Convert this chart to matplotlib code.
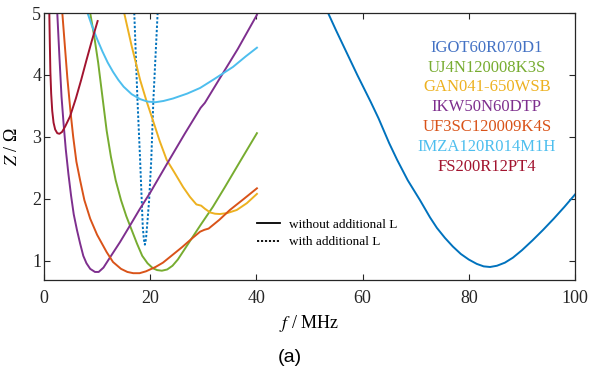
import matplotlib
matplotlib.use('Agg')
import matplotlib.pyplot as plt
from matplotlib.lines import Line2D

# =====================================================================
# DATA (Impedanz ueber Frequenz)
# =====================================================================
igot_f = [53.5, 55, 57, 59, 61.5, 63, 65, 66.5, 68.5, 70.8, 72.7, 74, 75.5, 77, 78.5, 80, 81.5, 82.8,
          84, 85.3, 86.8, 88.3, 90, 92, 94, 96, 98, 100]
igot_z = [5.0, 4.72, 4.36, 4.0, 3.57, 3.3, 2.9, 2.63, 2.3, 1.98, 1.70, 1.53, 1.37, 1.23, 1.11, 1.02, 0.95, 0.91,
          0.90, 0.92, 0.97, 1.05, 1.17, 1.33, 1.50, 1.68, 1.87, 2.07]

igotL_f = [17.0, 17.6, 18.1, 18.4, 18.6, 18.8, 19.0, 19.2, 19.4, 19.8, 20.2, 20.6, 21.4]
igotL_z = [5.0, 3.6, 2.63, 1.98, 1.55, 1.35, 1.26, 1.35, 1.55, 1.98, 2.63, 3.6, 5.0]

uj4n_f = [8.7, 9.5, 10.2, 11.0, 11.8, 12.6, 13.5, 14.5, 15.5, 16.5, 17.5, 18.5, 19.5, 20.5, 21.3, 22.2,
          23.2, 24.2, 25.2, 26.2, 27.5, 29.5, 31.8, 34, 36.9, 40.1]
uj4n_z = [5.0, 4.6, 4.2, 3.65, 3.1, 2.68, 2.3, 1.98, 1.72, 1.5, 1.28, 1.08, 0.96, 0.88, 0.85, 0.84,
          0.86, 0.92, 1.02, 1.15, 1.32, 1.58, 1.87, 2.18, 2.6, 3.06]

gan_f = [15.1, 16.5, 18.1, 19.3, 20.5, 21.8, 23.1, 24.6, 26.2, 27.5, 28.7, 29.6, 30.3, 31.3, 32.2, 33.1,
         34.5, 36.3, 38.2, 40.1]
gan_z = [5.0, 4.47, 3.92, 3.58, 3.27, 2.93, 2.63, 2.42, 2.19, 2.03, 1.91, 1.89, 1.84, 1.78, 1.76, 1.755,
         1.77, 1.82, 1.93, 2.08]

ikw_f = [2.5, 2.9, 3.3, 3.7, 4.1, 4.6, 5.1, 5.6, 6.2, 6.8, 7.4, 8.0, 8.7, 9.6, 10.3, 11.2, 12.4, 14.3,
         16.2, 18.0, 20.0, 23.4, 26.5, 29.5, 30.3, 33, 36.5, 40.1]
ikw_z = [5.0, 4.3, 3.65, 3.2, 2.8, 2.4, 2.05, 1.75, 1.5, 1.28, 1.08, 0.96, 0.87, 0.82, 0.82, 0.89, 1.05, 1.3,
         1.57, 1.83, 2.1, 2.6, 3.05, 3.47, 3.55, 3.93, 4.42, 4.97]

uf3_f = [3.45, 3.9, 4.4, 5.0, 5.5, 6.1, 6.8, 7.6, 8.7, 10.0, 11.8, 13.0, 14.5, 15.7, 16.8, 18.0, 19.2,
         21, 22.4, 23.7, 26, 28, 29.4, 30.2, 31, 33, 35, 37.5, 40.1]
uf3_z = [5.0, 4.5, 3.95, 3.4, 3.0, 2.6, 2.3, 1.98, 1.68, 1.42, 1.14, 0.98, 0.87, 0.82, 0.80, 0.80, 0.83,
         0.9, 0.97, 1.06, 1.22, 1.37, 1.47, 1.50, 1.52, 1.66, 1.82, 1.99, 2.17]

imza_f = [8.2, 9.0, 10.0, 11.0, 12.0, 13.0, 14.0, 15.0, 16.5, 18.1, 19.5, 21.0, 22.5, 24.3, 27.0, 29.4,
          32.0, 35.6, 38.0, 40.1]
imza_z = [5.0, 4.8, 4.58, 4.38, 4.2, 4.05, 3.92, 3.81, 3.69, 3.61, 3.57, 3.56, 3.58, 3.62, 3.7, 3.79,
          3.93, 4.13, 4.3, 4.44]

fs200_f = [1.0, 1.1, 1.2, 1.35, 1.55, 1.8, 2.1, 2.5, 2.9, 3.4, 4.0, 4.9, 6.0, 7.0, 8.0, 9.0, 10.1]
fs200_z = [5.0, 4.5, 4.05, 3.7, 3.42, 3.23, 3.12, 3.06, 3.05, 3.08, 3.17, 3.33, 3.62, 3.92, 4.24, 4.55, 4.87]

names  = ['IGOT60R070D1', 'UJ4N120008K3S', 'GAN041-650WSB', 'IKW50N60DTP',
          'UF3SC120009K4S', 'IMZA120R014M1H', 'FS200R12PT4']
colors = ['#0072BD', '#77AC30', '#EDB120', '#7E2F8E', '#D95319', '#4DBEEE', '#A2142F']
text_colors = ['#4472C4', '#77AC30', '#EDB120', '#7E2F8E', '#D95319', '#4DBEEE', '#A2142F']

# =====================================================================
# PLOT
# =====================================================================
plt.rcParams['font.family'] = ['Liberation Serif', 'DejaVu Serif']
plt.rcParams['mathtext.fontset'] = 'stix'

fig = plt.figure(figsize=(5.9, 3.75), dpi=100)
ax = fig.add_axes([44/590, 1-280/375, 531/590, 267/375])

lw = 1.4
dotted = (0, (1.2, 1.0))
ax.plot(igot_f, igot_z, color=colors[0], lw=lw)
ax.plot(igotL_f, igotL_z, color=colors[0], lw=lw, ls=dotted)
ax.plot(uj4n_f, uj4n_z, color=colors[1], lw=lw)
ax.plot(gan_f, gan_z, color=colors[2], lw=lw)
ax.plot(ikw_f, ikw_z, color=colors[3], lw=lw)
ax.plot(uf3_f, uf3_z, color=colors[4], lw=lw)
ax.plot(imza_f, imza_z, color=colors[5], lw=lw)
ax.plot(fs200_f, fs200_z, color=colors[6], lw=lw)

ax.set_xlim(0, 100)
ax.set_ylim(0.69, 5)
ax.set_xticks([0, 20, 40, 60, 80, 100])
ax.set_yticks([1, 2, 3, 4, 5])
ax.tick_params(direction='in', top=True, right=True, length=4, width=0.8,
               labelsize=13, colors='#262626')
ax.tick_params(axis='x', pad=7)
ax.tick_params(axis='y', pad=2)
for sp in ax.spines.values():
    sp.set_color('#262626')
    sp.set_linewidth(0.9)

ax.set_xlabel('$f$ / MHz', fontsize=13)
ax.set_ylabel('$Z$ / Ω', fontsize=13)
ax.xaxis.set_label_coords(0.5, -0.125)
ax.yaxis.set_label_coords(-0.043, 0.5)

# farbige Bauteilnamen rechts
for i, (name, c) in enumerate(zip(names, text_colors)):
    ax.text(83.4, 4.44 - i * 0.32, name, color=c, fontsize=12, ha='center', va='center')

# Linienstil-Legende
handles = [Line2D([], [], color='black', lw=1.3),
           Line2D([], [], color='black', lw=1.3, ls=dotted)]
ax.legend(handles, ['without additional L', 'with additional L'],
          loc='center left', bbox_to_anchor=(257/590, 1-233.5/375),
          bbox_transform=fig.transFigure, frameon=False, fontsize=9.5,
          handlelength=1.75, handletextpad=0.65, labelspacing=0.4,
          borderpad=0, borderaxespad=0)

fig.text(290/590, 1-357/375, '(a)', ha='center', va='center', fontsize=14,
         family='Liberation Sans')

fig.savefig('out.png', dpi=100)
